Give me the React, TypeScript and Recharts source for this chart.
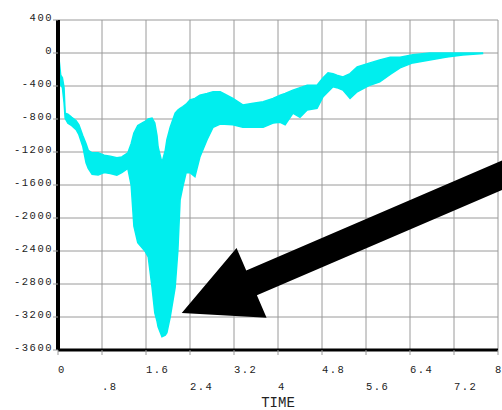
import React from 'react';
import { ComposedChart, Area, XAxis, YAxis, CartesianGrid, ReferenceLine } from 'recharts';

// Time samples (s)
const time = [
  0.0, 0.02, 0.05, 0.08, 0.11, 0.13, 0.18, 0.25, 0.33, 0.38, 0.45, 0.51, 0.55, 0.62, 0.73, 0.84,
  0.95, 1.07, 1.16, 1.27, 1.33, 1.38, 1.45, 1.58, 1.64, 1.71, 1.76, 1.8, 1.82, 1.89, 1.95, 1.98,
  2.04, 2.13, 2.18, 2.22, 2.27, 2.33, 2.4, 2.49, 2.58, 2.71, 2.82, 2.95, 3.18, 3.36, 3.55, 3.73,
  3.91, 4.04, 4.13, 4.27, 4.4, 4.53, 4.71, 4.82, 4.91, 5.0, 5.07, 5.18, 5.31, 5.44, 5.67, 5.85,
  6.04, 6.22, 6.45, 6.76, 7.07, 7.36, 7.67, 7.73,
];
// Upper envelope of the oscillating signal
const upper = [
  0, -80, -270, -300, -420, -730, -740, -780, -820, -870, -1000, -1100, -1180, -1210, -1210, -1240,
  -1250, -1270, -1260, -1210, -1100, -970, -880, -830, -800, -790, -850, -1000, -1140, -1330, -1180, -1050,
  -900, -730, -690, -670, -650, -620, -570, -550, -510, -490, -470, -470, -550, -630, -610, -590,
  -550, -510, -490, -450, -420, -390, -390, -300, -240, -250, -270, -290, -250, -170, -120, -85,
  -50, -50, -20, 0, 0, 0, 0, 0,
];
// Lower envelope of the oscillating signal
const lower = [
  -30, -250, -390, -420, -600, -790, -850, -880, -930, -990, -1130, -1330, -1400, -1470, -1480, -1450,
  -1460, -1480, -1450, -1400, -1600, -2100, -2300, -2400, -2470, -2840, -3150, -3250, -3320, -3440, -3420, -3390,
  -3200, -2840, -2390, -1780, -1620, -1450, -1450, -1500, -1260, -1050, -900, -860, -870, -900, -900, -900,
  -850, -840, -870, -730, -780, -690, -670, -530, -470, -410, -420, -450, -550, -470, -390, -350,
  -260, -180, -120, -85, -50, -25, -10, -5,
];

const xTicks = [0, 0.8, 1.6, 2.4, 3.2, 4, 4.8, 5.6, 6.4, 7.2, 8];
const xTickLabels = ['0', '.8', '1.6', '2.4', '3.2', '4', '4.8', '5.6', '6.4', '7.2', '8'];
const yTicks = [400, 0, -400, -800, -1200, -1600, -2000, -2400, -2800, -3200, -3600];

// Arrow annotation: tip and tail in data coordinates
const arrowTip = { x: 2.25, y: -3150 };
const arrowTail = { x: 8.6, y: -1330 };

const data = time.map((t, i) => ({ t, range: [lower[i], upper[i]] }));

const FONT = '"Liberation Mono", "DejaVu Sans Mono", monospace';

const XTick = (props: any) => {
  const { x, y, payload, index } = props;
  const idx = xTicks.indexOf(payload.value);
  const label = idx >= 0 ? xTickLabels[idx] : String(payload.value);
  const row = (idx >= 0 ? idx : index) % 2;
  const last = idx === xTicks.length - 1;
  return (
    <text
      x={last ? x - 3 : x}
      y={row === 0 ? y + 16 : y + 33}
      textAnchor="start"
      fontFamily={FONT}
      fontSize={10.5}
      letterSpacing={1.5}
      fill="#222"
    >
      {label}
    </text>
  );
};

const YTick = (props: any) => {
  const { x, y, payload } = props;
  return (
    <text
      x={x + 2}
      y={y + 1}
      textAnchor="end"
      fontFamily={FONT}
      fontSize={10.5}
      letterSpacing={1.5}
      fill="#222"
    >
      {payload.value}
    </text>
  );
};

const ArrowShape = (props: any) => {
  const { x1, y1, x2, y2 } = props;
  if ([x1, y1, x2, y2].some((v) => typeof v !== 'number' || isNaN(v))) return null;
  const dx = x2 - x1;
  const dy = y2 - y1;
  const len = Math.hypot(dx, dy) || 1;
  const ux = dx / len;
  const uy = dy / len;
  const nx = -uy;
  const ny = ux;
  const headLen = 76;
  const headHalf = 38;
  const shaftHalf = 13.5;
  const bx = x1 + ux * headLen;
  const by = y1 + uy * headLen;
  const pts = [
    [x1, y1],
    [bx + nx * headHalf, by + ny * headHalf],
    [bx + nx * shaftHalf, by + ny * shaftHalf],
    [x2 + nx * shaftHalf, y2 + ny * shaftHalf],
    [x2 - nx * shaftHalf, y2 - ny * shaftHalf],
    [bx - nx * shaftHalf, by - ny * shaftHalf],
    [bx - nx * headHalf, by - ny * headHalf],
  ];
  return <polygon points={pts.map((p) => p.join(',')).join(' ')} fill="#000" stroke="none" />;
};

export default function App() {
  return (
    <div style={{ position: 'absolute', left: 0, top: 0, width: 502, height: 410, background: '#fff' }}>
      <ComposedChart
        width={502}
        height={410}
        data={data}
        margin={{ top: 20, right: 4, left: 0, bottom: 0 }}
      >
        <CartesianGrid stroke="#9a9a9a" strokeWidth={1} horizontalValues={yTicks} verticalValues={xTicks} />
        <XAxis
          dataKey="t"
          type="number"
          domain={[0, 8]}
          ticks={xTicks}
          interval={0}
          height={60}
          axisLine={{ stroke: '#000', strokeWidth: 3 }}
          tickLine={{ stroke: '#9a9a9a' }}
          tickSize={5}
          tick={<XTick />}
          label={{
            value: 'TIME',
            position: 'insideBottom',
            offset: 3,
            style: { fontFamily: FONT, fontSize: 14, fill: '#222' },
          }}
        />
        <YAxis
          type="number"
          domain={[-3600, 400]}
          ticks={yTicks}
          interval={0}
          width={58}
          axisLine={{ stroke: '#000', strokeWidth: 4 }}
          tickLine={{ stroke: '#9a9a9a' }}
          tickSize={5}
          tick={<YTick />}
        />
        <Area
          dataKey="range"
          type="linear"
          stroke="#00eeee"
          strokeWidth={1.5}
          fill="#00eeee"
          fillOpacity={1}
          isAnimationActive={false}
          dot={false}
          activeDot={false}
        />
        <ReferenceLine
          segment={[arrowTip, arrowTail]}
          ifOverflow="visible"
          shape={ArrowShape}
        />
      </ComposedChart>
    </div>
  );
}
